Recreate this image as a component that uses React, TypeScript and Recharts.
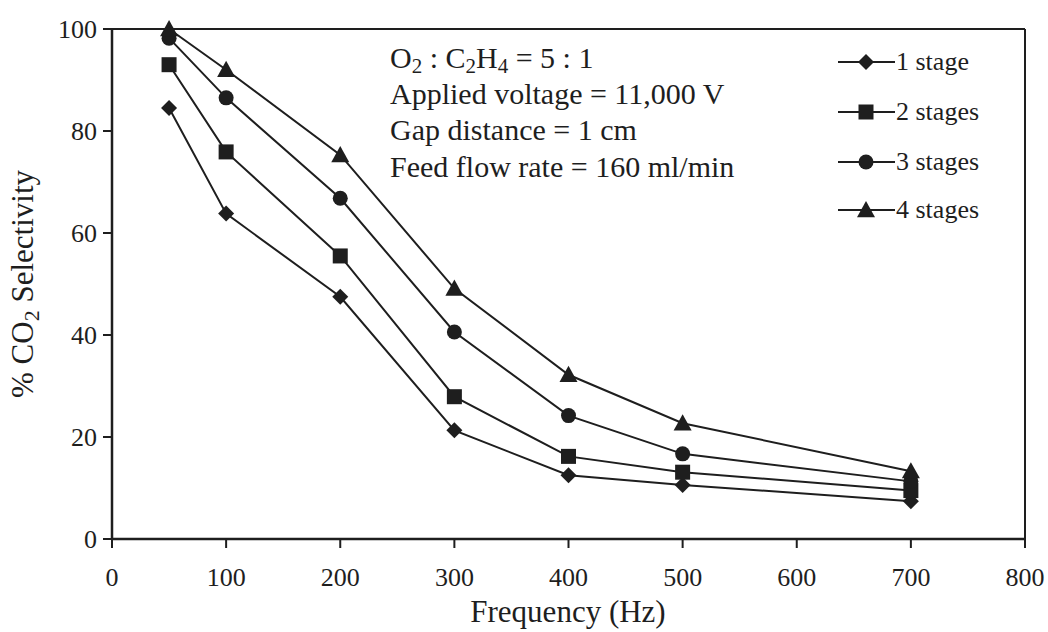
import React from "react";
import { LineChart, Line, XAxis, YAxis, ReferenceLine, Customized } from "recharts";

const frequencies = [50, 100, 200, 300, 400, 500, 700];
const stage1 = [84.5, 63.8, 47.5, 21.3, 12.5, 10.6, 7.4];
const stage2 = [93, 75.9, 55.5, 27.9, 16.2, 13.1, 9.5];
const stage3 = [98.2, 86.5, 66.8, 40.6, 24.2, 16.7, 11.3];
const stage4 = [100, 92, 75.3, 49.1, 32.2, 22.7, 13.3];
const xTicks = [0, 100, 200, 300, 400, 500, 600, 700, 800];
const yTicks = [0, 20, 40, 60, 80, 100];
const seriesNames = ["1 stage", "2 stages", "3 stages", "4 stages"];
const seriesShapes = ["diamond", "square", "circle", "triangle"];

const data = frequencies.map((f, i) => ({
  f,
  s1: stage1[i],
  s2: stage2[i],
  s3: stage3[i],
  s4: stage4[i],
}));

const FONT = "'Liberation Serif', 'DejaVu Serif', serif";
const INK = "#1e1e1e";

function Marker({ shape, cx, cy }: { shape: string; cx: number; cy: number }) {
  if (cx == null || cy == null) return null;
  if (shape === "diamond") {
    const r = 8;
    return <path d={`M${cx},${cy - r} L${cx + r},${cy} L${cx},${cy + r} L${cx - r},${cy} Z`} fill={INK} />;
  }
  if (shape === "square") {
    const r = 7.5;
    return <rect x={cx - r} y={cy - r} width={2 * r} height={2 * r} fill={INK} />;
  }
  if (shape === "circle") {
    return <circle cx={cx} cy={cy} r={7.5} fill={INK} />;
  }
  const r = 9;
  return <path d={`M${cx},${cy - r} L${cx + r},${cy + r * 0.8} L${cx - r},${cy + r * 0.8} Z`} fill={INK} />;
}

const makeDot = (shape: string) => (props: any) => (
  <Marker key={`${shape}-${props.index}`} shape={shape} cx={props.cx} cy={props.cy} />
);

function LegendBlock() {
  const x0 = 838;
  const rows = [62, 112, 162, 210];
  return (
    <g>
      {seriesNames.map((name, i) => {
        const y = rows[i];
        return (
          <g key={name}>
            <line x1={x0} y1={y} x2={x0 + 57} y2={y} stroke={INK} strokeWidth={2} />
            <Marker shape={seriesShapes[i]} cx={x0 + 28} cy={y} />
            <text x={x0 + 58} y={y + 8} fontFamily={FONT} fontSize={26} fill={INK}>
              {name}
            </text>
          </g>
        );
      })}
    </g>
  );
}

function Annotation() {
  const x = 390;
  const baselines = [68, 104, 140, 177];
  return (
    <g fontFamily={FONT} fontSize={30} fill={INK}>
      <text x={x} y={baselines[0]}>
        O<tspan fontSize={21} dy={5}>2</tspan>
        <tspan dy={-5}> : C</tspan>
        <tspan fontSize={21} dy={5}>2</tspan>
        <tspan dy={-5}>H</tspan>
        <tspan fontSize={21} dy={5}>4</tspan>
        <tspan dy={-5}> = 5 : 1</tspan>
      </text>
      <text x={x} y={baselines[1]}>Applied voltage = 11,000 V</text>
      <text x={x} y={baselines[2]}>Gap distance = 1 cm</text>
      <text x={x} y={baselines[3]}>Feed flow rate = 160 ml/min</text>
    </g>
  );
}

function Titles() {
  return (
    <g fontFamily={FONT} fill={INK}>
      <text transform="translate(33,284) rotate(-90)" textAnchor="middle" fontSize={31}>
        % CO<tspan fontSize={22} dy={6}>2</tspan>
        <tspan dy={-6}> Selectivity</tspan>
      </text>
      <text x={568} y={622} textAnchor="middle" fontSize={31}>
        Frequency (Hz)
      </text>
    </g>
  );
}

export default function App() {
  return (
    <div style={{ position: "absolute", left: 0, top: 0, background: "#fff" }}>
      <LineChart
        width={1048}
        height={632}
        data={data}
        margin={{ top: 29, right: 23, bottom: 33, left: 52 }}
      >
        <XAxis
          dataKey="f"
          type="number"
          domain={[0, 800]}
          ticks={xTicks}
          interval={0}
          stroke={INK}
          strokeWidth={2.5}
          tickSize={9}
          tickLine={{ stroke: INK, strokeWidth: 2 }}
          tick={{ fontFamily: FONT, fontSize: 26, fill: INK, dy: 18 }}
          height={60}
        />
        <YAxis
          type="number"
          domain={[0, 100]}
          ticks={yTicks}
          interval={0}
          width={60}
          stroke={INK}
          strokeWidth={2.5}
          tickSize={9}
          tickLine={{ stroke: INK, strokeWidth: 2 }}
          tick={{ fontFamily: FONT, fontSize: 26, fill: INK, dx: -4 }}
        />
        <ReferenceLine y={100} stroke={INK} strokeWidth={2} ifOverflow="visible" />
        <ReferenceLine x={800} stroke={INK} strokeWidth={2} ifOverflow="visible" />
        {["s1", "s2", "s3", "s4"].map((k, i) => (
          <Line
            key={k}
            dataKey={k}
            name={seriesNames[i]}
            stroke={INK}
            strokeWidth={2}
            dot={makeDot(seriesShapes[i])}
            activeDot={false}
            isAnimationActive={false}
          />
        ))}
        <Customized component={() => <LegendBlock />} />
        <Customized component={() => <Annotation />} />
        <Customized component={() => <Titles />} />
      </LineChart>
    </div>
  );
}
